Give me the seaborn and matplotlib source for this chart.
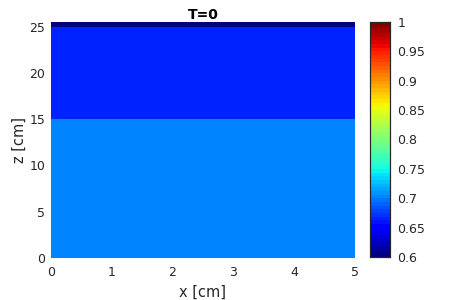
import numpy as np
import pandas as pd
import matplotlib
matplotlib.use("Agg")
import matplotlib.pyplot as plt
import seaborn as sns

# layer data
layer_bottom = [0.0, 15.0, 25.0]     # cm
layer_top = [15.0, 25.0, 25.5]       # cm
layer_value = [0.705, 0.666, 0.604]

x_width = 5.0      # cm
dx = 0.5
dz = 0.5

x_ticks = [0, 1, 2, 3, 4, 5]
z_ticks = [0, 5, 10, 15, 20, 25]
cbar_ticks = [0.6, 0.65, 0.7, 0.75, 0.8, 0.85, 0.9, 0.95, 1.0]
cbar_labels = ["0.6", "0.65", "0.7", "0.75", "0.8", "0.85", "0.9", "0.95", "1"]

# build the field on a regular grid from the layers
z_centers = np.arange(dz / 2, layer_top[-1], dz)
x_centers = np.arange(dx / 2, x_width, dx)
field = np.zeros((len(z_centers), len(x_centers)))
for zb, zt, v in zip(layer_bottom, layer_top, layer_value):
    field[(z_centers > zb) & (z_centers < zt), :] = v
df = pd.DataFrame(field, index=z_centers, columns=x_centers)

sns.set_style("white")
plt.rcParams["font.family"] = ["DejaVu Sans"]
txt = "#262626"

fig = plt.figure(figsize=(4.55, 3.0), dpi=100)
ax = fig.add_axes([0.112, 0.14, 0.668, 0.787])
cax = fig.add_axes([0.813, 0.143, 0.045, 0.784])

cmap = matplotlib.colormaps["jet"].resampled(64)
sns.heatmap(df, ax=ax, cbar_ax=cax, cmap=cmap, vmin=0.6, vmax=1.0,
            xticklabels=False, yticklabels=False)
ax.invert_yaxis()

ax.set_xticks([t / dx for t in x_ticks])
ax.set_xticklabels([str(t) for t in x_ticks])
ax.set_yticks([t / dz for t in z_ticks])
ax.set_yticklabels([str(t) for t in z_ticks], rotation=0)
ax.tick_params(length=0, labelsize=9, colors=txt, pad=4)
ax.tick_params(axis="x", pad=6)
for s in ax.spines.values():
    s.set_visible(False)
ax.set_xlabel("x [cm]", fontsize=10.5, color=txt, labelpad=4)
ax.set_ylabel("z [cm]", fontsize=10.5, color=txt, labelpad=2)
ax.set_title("T=0", fontsize=10, fontweight="bold", color="black", pad=2)

cax.set_yticks(cbar_ticks)
cax.set_yticklabels(cbar_labels)
cax.tick_params(direction="in", length=3, labelsize=9, colors=txt, pad=5)
for s in cax.spines.values():
    s.set_visible(True)
    s.set_color("#262626")
    s.set_linewidth(0.8)

fig.savefig("out.png", dpi=100)
